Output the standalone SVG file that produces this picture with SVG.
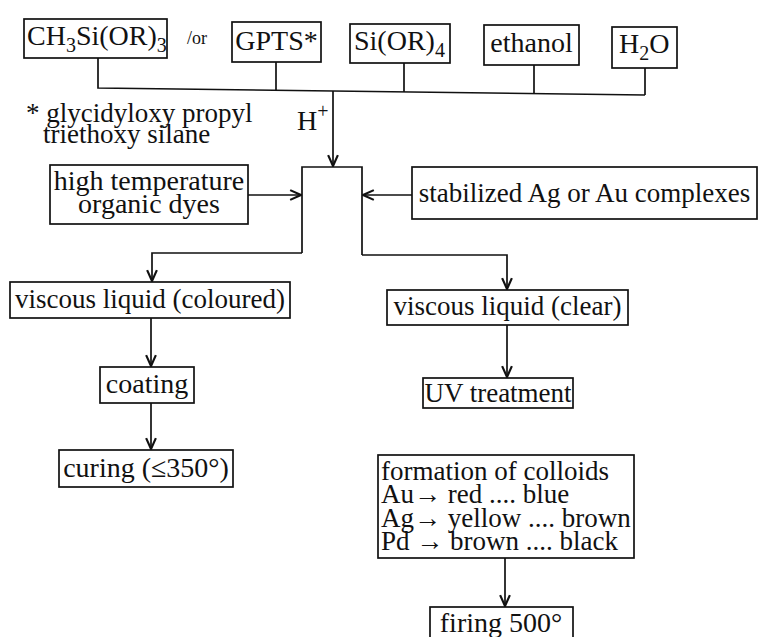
<svg xmlns="http://www.w3.org/2000/svg" width="759" height="637" viewBox="0 0 759 637">
<defs>
<style>
.box{fill:#fff;stroke:#111;stroke-width:1.7}
.ln{fill:none;stroke:#111;stroke-width:1.7}
.t{font-family:"Liberation Serif","Tinos","DejaVu Serif","Noto Serif","Times New Roman",serif;font-size:28px;fill:#111}
.m{font-size:27px}
.c{text-anchor:middle}
.sub{font-size:20px}
.sm{font-size:18px}
</style>
<marker id="ah" viewBox="0 0 12 12" refX="11" refY="6" markerWidth="13" markerHeight="13" markerUnits="userSpaceOnUse" orient="auto">
<path d="M1,1.5 L11,6 L1,10.5" fill="none" stroke="#111" stroke-width="2"/>
</marker>
</defs>
<rect width="759" height="637" fill="#fff"/>

<g id="n-ch3">
<rect class="box" x="24" y="19" width="143" height="39"/>
<text class="t" x="27" y="45">CH<tspan class="sub" dy="7">3</tspan><tspan dy="-7">Si(OR)</tspan><tspan class="sub" dy="7">3</tspan></text>
</g>
<g id="n-or"><text class="t sm" x="187" y="44">/or</text></g>
<g id="n-gpts">
<rect class="box" x="232" y="22" width="89" height="40"/>
<text class="t c" x="276.5" y="50">GPTS*</text>
</g>
<g id="n-si">
<rect class="box" x="350" y="24" width="100" height="39"/>
<text class="t" x="354" y="50">Si(OR)<tspan class="sub" dy="7">4</tspan></text>
</g>
<g id="n-ethanol">
<rect class="box" x="484" y="25" width="95" height="40"/>
<text class="t c" x="531.5" y="52">ethanol</text>
</g>
<g id="n-h2o">
<rect class="box" x="612" y="27" width="65" height="41"/>
<text class="t" x="619" y="53">H<tspan class="sub" dy="7">2</tspan><tspan dy="-7">O</tspan></text>
</g>

<g id="n-note">
<text class="t m" x="26" y="122">* glycidyloxy propyl</text>
<text class="t m" x="43" y="143">triethoxy silane</text>
</g>
<g id="n-h">
<text class="t" x="297" y="130">H<tspan class="sub" dy="-12">+</tspan></text>
</g>

<g id="n-hightemp">
<rect class="box" x="50" y="165" width="198" height="59"/>
<text class="t c" x="149" y="190">high temperature</text>
<text class="t c" x="149" y="213">organic dyes</text>
</g>
<g id="n-stab">
<rect class="box" x="412" y="167" width="345" height="52"/>
<text class="t m c" x="584.5" y="202">stabilized Ag or Au complexes</text>
</g>

<g id="n-colour">
<rect class="box" x="10" y="282" width="280" height="36"/>
<text class="t m c" x="150" y="308">viscous liquid (coloured)</text>
</g>
<g id="n-clear">
<rect class="box" x="387" y="290" width="241" height="35"/>
<text class="t m c" x="507.5" y="315">viscous liquid (clear)</text>
</g>
<g id="n-coating">
<rect class="box" x="100" y="367" width="94" height="36"/>
<text class="t c" x="147" y="393">coating</text>
</g>
<g id="n-curing">
<rect class="box" x="59" y="450" width="174" height="37"/>
<text class="t c" x="146" y="477">curing (≤350°)</text>
</g>
<g id="n-uv">
<rect class="box" x="423" y="378" width="150" height="30"/>
<text class="t m c" x="498" y="402">UV treatment</text>
</g>
<g id="n-colloids">
<rect class="box" x="378" y="455" width="256" height="103"/>
<text class="t m" x="381" y="480">formation of colloids</text>
<text class="t m" x="381" y="503">Au→ red .... blue</text>
<text class="t m" x="381" y="527">Ag→ yellow .... brown</text>
<text class="t m" x="381" y="550">Pd → brown .... black</text>
</g>
<g id="n-firing">
<rect class="box" x="430" y="607" width="143" height="45"/>
<text class="t c" x="501" y="632">firing 500°</text>
</g>

<g id="connectors">
<path class="ln" d="M98,58 L98,88 L645,95"/>
<path class="ln" d="M276,62 L276,90.3"/>
<path class="ln" d="M404,63 L404,91.9"/>
<path class="ln" d="M534,65 L534,93.6"/>
<path class="ln" d="M645,68 L645,95"/>
<path class="ln" d="M333,91 L333,166" marker-end="url(#ah)"/>
<path class="ln" d="M302,253 L302,167 L362,167 L362,255"/>
<path class="ln" d="M248,195 L301,195" marker-end="url(#ah)"/>
<path class="ln" d="M412,195 L363,195" marker-end="url(#ah)"/>
<path class="ln" d="M302,253 L152,253 L152,281" marker-end="url(#ah)"/>
<path class="ln" d="M362,255 L507,255 L507,289" marker-end="url(#ah)"/>
<path class="ln" d="M151,318 L151,366" marker-end="url(#ah)"/>
<path class="ln" d="M151,403 L151,449" marker-end="url(#ah)"/>
<path class="ln" d="M507,325 L507,377" marker-end="url(#ah)"/>
<path class="ln" d="M505,558 L505,606" marker-end="url(#ah)"/>
</g>
</svg>
